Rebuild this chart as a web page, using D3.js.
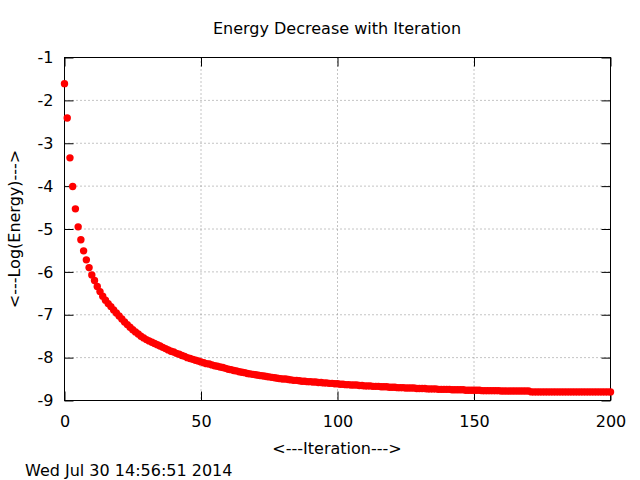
<!DOCTYPE html>
<html>
<head>
<meta charset="utf-8">
<script src="https://cdn.jsdelivr.net/npm/d3@7"></script>
<style>
  html, body { margin: 0; padding: 0; background: #fff; }
  svg { display: block; }
  text { font-family: "DejaVu Sans", sans-serif; fill: #000; }
</style>
</head>
<body>
<svg id="chart" width="640" height="480"></svg>
<script>
// ---- data ----
const chartTitle = "Energy Decrease with Iteration";
const xLabel = "<---Iteration--->";
const yLabel = "<---Log(Energy)--->";
const timestamp = "Wed Jul 30 14:56:51 2014";
const xTicks = [0, 50, 100, 150, 200];
const yTicks = [-1, -2, -3, -4, -5, -6, -7, -8, -9];

const energy = [
  -1.61,-2.41,-3.34,-4.01,-4.53,-4.95,-5.25,-5.51,-5.72,-5.90,
  -6.07,-6.20,-6.34,-6.46,-6.57,-6.66,-6.74,-6.81,-6.89,-6.96,
  -7.03,-7.10,-7.17,-7.23,-7.29,-7.35,-7.40,-7.45,-7.50,-7.54,
  -7.58,-7.61,-7.64,-7.67,-7.70,-7.73,-7.76,-7.79,-7.82,-7.85,
  -7.87,-7.90,-7.92,-7.95,-7.97,-8.00,-8.02,-8.04,-8.06,-8.08,
  -8.10,-8.12,-8.14,-8.15,-8.17,-8.19,-8.20,-8.22,-8.23,-8.25,
  -8.27,-8.28,-8.30,-8.31,-8.33,-8.34,-8.35,-8.37,-8.38,-8.39,
  -8.40,-8.41,-8.42,-8.43,-8.44,-8.45,-8.46,-8.47,-8.48,-8.49,
  -8.50,-8.50,-8.51,-8.52,-8.53,-8.53,-8.54,-8.55,-8.55,-8.56,
  -8.56,-8.57,-8.57,-8.58,-8.58,-8.59,-8.59,-8.60,-8.60,-8.61,
  -8.61,-8.62,-8.62,-8.63,-8.63,-8.64,-8.64,-8.64,-8.65,-8.65,
  -8.66,-8.66,-8.66,-8.67,-8.67,-8.67,-8.68,-8.68,-8.68,-8.69,
  -8.69,-8.69,-8.70,-8.70,-8.70,-8.71,-8.71,-8.71,-8.71,-8.72,
  -8.72,-8.72,-8.72,-8.73,-8.73,-8.73,-8.73,-8.74,-8.74,-8.74,
  -8.74,-8.74,-8.75,-8.75,-8.75,-8.75,-8.75,-8.76,-8.76,-8.76,
  -8.76,-8.76,-8.76,-8.77,-8.77,-8.77,-8.77,-8.77,-8.77,-8.77,
  -8.78,-8.78,-8.78,-8.78,-8.78,-8.78,-8.78,-8.78,-8.78,-8.78,
  -8.78,-8.80,-8.80,-8.80,-8.80,-8.80,-8.80,-8.80,-8.80,-8.80,
  -8.80,-8.80,-8.80,-8.80,-8.80,-8.80,-8.80,-8.80,-8.80,-8.80,
  -8.80,-8.80,-8.80,-8.80,-8.80,-8.80,-8.80,-8.80,-8.80,-8.80,
  -8.80
];
const iterations = energy.map((_, i) => i);

// ---- layout ----
const svg = d3.select("#chart");
const plotL = 64.5, plotR = 610.5, plotT = 57.5, plotB = 400.5;
const fontSize = 16;

const x = d3.scaleLinear().domain([0, 200]).range([plotL, plotR]);
const y = d3.scaleLinear().domain([-9, -1]).range([plotB, plotT]);
const fmt = d => String(d);

// grid
const grid = svg.append("g").attr("stroke", "#888").attr("stroke-width", 1)
  .attr("stroke-dasharray", "1,3").attr("fill", "none");
xTicks.filter(t => t > 0 && t < 200).forEach(t => {
  grid.append("line").attr("x1", x(t)).attr("x2", x(t)).attr("y1", plotT).attr("y2", plotB);
});
yTicks.filter(t => t > -9 && t < -1).forEach(t => {
  grid.append("line").attr("x1", plotL).attr("x2", plotR).attr("y1", y(t)).attr("y2", y(t));
});

// axes with inward ticks (mirrored on all four sides)
function styleAxis(g) {
  g.select(".domain").remove();
  g.selectAll(".tick line").attr("stroke", "#000");
  g.selectAll(".tick text").attr("font-family", "DejaVu Sans").attr("font-size", fontSize).attr("fill", "#000");
}
svg.append("g").attr("transform", `translate(0,${plotB})`)
  .call(d3.axisBottom(x).tickValues(xTicks).tickSize(-9).tickPadding(15).tickFormat(fmt))
  .call(styleAxis);
svg.append("g").attr("transform", `translate(0,${plotT})`)
  .call(d3.axisTop(x).tickValues(xTicks).tickSize(-9).tickFormat(""))
  .call(styleAxis);
svg.append("g").attr("transform", `translate(${plotL},0)`)
  .call(d3.axisLeft(y).tickValues(yTicks).tickSize(-9).tickPadding(11).tickFormat(fmt))
  .call(styleAxis);
svg.append("g").attr("transform", `translate(${plotR},0)`)
  .call(d3.axisRight(y).tickValues(yTicks).tickSize(-9).tickFormat(""))
  .call(styleAxis);

// border
svg.append("rect").attr("x", plotL).attr("y", plotT).attr("width", plotR - plotL).attr("height", plotB - plotT)
  .attr("fill", "none").attr("stroke", "#000").attr("stroke-width", 1);

// points
svg.append("g").selectAll("circle").data(iterations).join("circle")
  .attr("cx", i => x(i)).attr("cy", i => y(energy[i])).attr("r", 3.7).attr("fill", "#ff0000");

// texts
svg.append("text").attr("x", 337).attr("y", 34).attr("text-anchor", "middle")
  .attr("font-size", fontSize).text(chartTitle);
svg.append("text").attr("x", 337).attr("y", 454).attr("text-anchor", "middle")
  .attr("font-size", fontSize).text(xLabel);
svg.append("text").attr("transform", "translate(20,229) rotate(-90)").attr("text-anchor", "middle")
  .attr("font-size", fontSize).text(yLabel);
svg.append("text").attr("x", 25).attr("y", 476).attr("font-size", fontSize).text(timestamp);
</script>
</body>
</html>
